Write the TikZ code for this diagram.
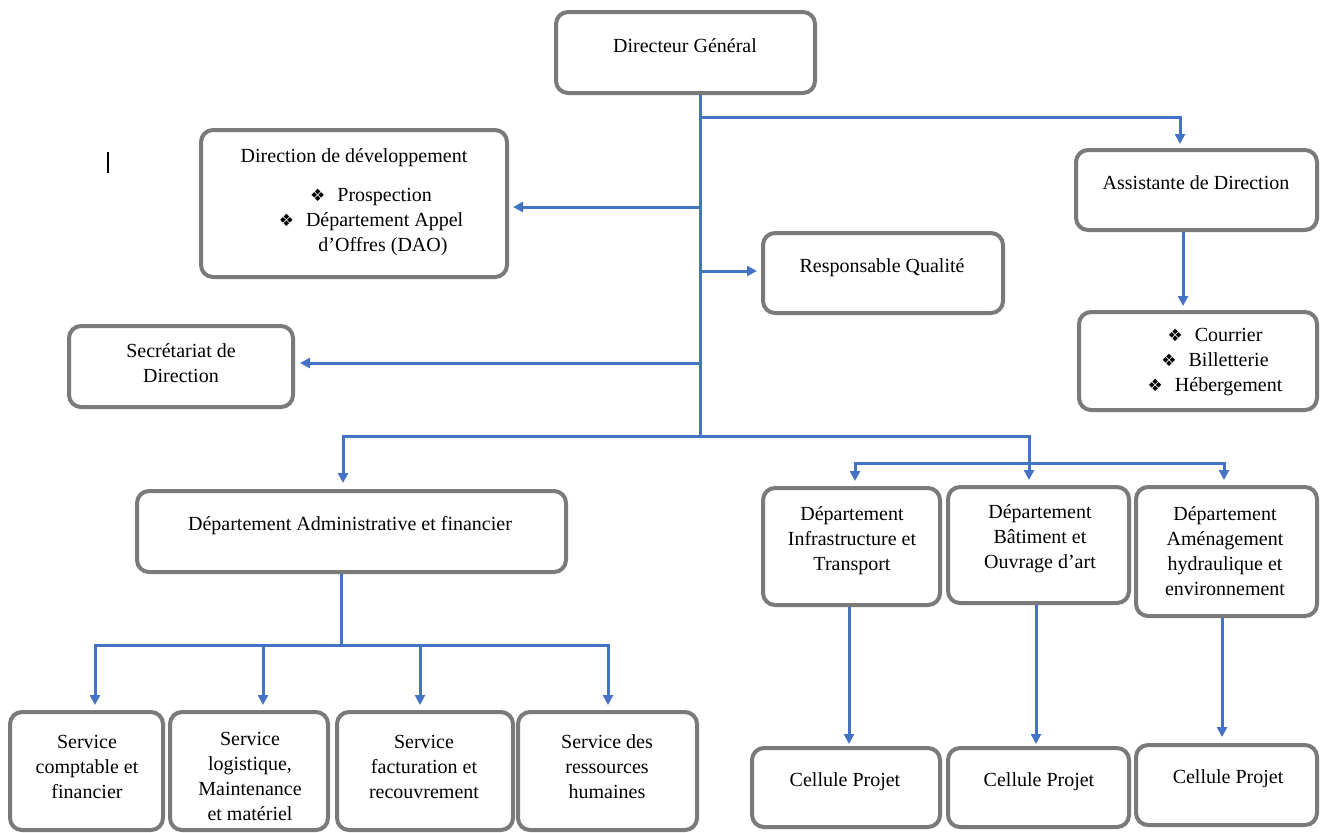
\documentclass[tikz,border=0pt]{standalone}
\usepackage{fontspec}
\setmainfont{Liberation Serif}
\newfontfamily\djv{DejaVu Sans}
\usetikzlibrary{fit,arrows.meta}
\definecolor{boxgray}{HTML}{7A7A7A}
\definecolor{lineblue}{HTML}{4472C4}
\newcommand\bul{{\djv\fontsize{8.5}{8}\selectfont ❖}\hspace{6pt}}
\begin{document}
\begin{tikzpicture}[x=0.5pt,y=-0.5pt,
  box/.style={draw=boxgray, line width=2pt, rounded corners=6pt, fill=white, inner sep=0pt},
  txt/.style={font=\fontsize{10}{12.5}\selectfont, align=center, inner sep=0pt},
  conn/.style={draw=lineblue, line width=1.5pt},
  arr/.style={conn, -{Triangle[length=5pt,width=5pt]}}]
\useasboundingbox (0,0) rectangle (1320,832);
\fill[white] (0,0) rectangle (1320,832);

% boxes
\node[box, fit={(556,12) (815,93)}] (dg) {};
\node[box, fit={(201,130) (507,277)}] (dev) {};
\node[box, fit={(1076,150) (1317,230)}] (asst) {};
\node[box, fit={(763,233) (1003,313)}] (rq) {};
\node[box, fit={(1079,312) (1317,410)}] (cour) {};
\node[box, fit={(69,326) (293,407)}] (sec) {};
\node[box, fit={(137,491) (566,572)}] (daf) {};
\node[box, fit={(763,488) (940,605)}] (infra) {};
\node[box, fit={(948,487) (1129,603)}] (bat) {};
\node[box, fit={(1136,487) (1317,616)}] (amen) {};
\node[box, fit={(10,712) (163,830)}] (s1) {};
\node[box, fit={(170,712) (328,830)}] (s2) {};
\node[box, fit={(337,712) (513,830)}] (s3) {};
\node[box, fit={(518,712) (697,830)}] (s4) {};
\node[box, fit={(752,748) (940,827)}] (c1) {};
\node[box, fit={(948,748) (1129,827)}] (c2) {};
\node[box, fit={(1136,745) (1317,825)}] (c3) {};

% texts
\node[txt] (dgT) at (685,46) {Directeur Général};
\node[txt] (devT) at (354,158) {Direction de développement};
\node[txt] (devL) at (371,222) {\bul Prospection\\\bul Département Appel\\\hspace*{12pt}d’Offres (DAO)};
\node[txt] (asstT) at (1196,183) {Assistante de Direction};
\node[txt] (rqT) at (882,268) {Responsable Qualité};
\node[txt] (courT) at (1215,362) {\bul Courrier\\\bul Billetterie\\\bul Hébergement};
\node[txt] (secT) at (181,363) {Secrétariat de\\Direction};
\node[txt] (dafT) at (350,526) {Département Administrative et financier};
\node[txt] (infraT) at (852,541) {Département\\Infrastructure et\\Transport};
\node[txt] (batT) at (1040,539) {Département\\Bâtiment et\\Ouvrage d’art};
\node[txt] (amenT) at (1225,551) {Département\\Aménagement\\hydraulique et\\environnement};
\node[txt] (s1T) at (87,767) {Service\\comptable et\\financier};
\node[txt] (s2T) at (250,776) {Service\\logistique,\\Maintenance\\et matériel};
\node[txt] (s3T) at (424,767) {Service\\facturation et\\recouvrement};
\node[txt] (s4T) at (607,767) {Service des\\ressources\\humaines};
\node[txt] (c1T) at (845,782) {Cellule Projet};
\node[txt] (c2T) at (1039,782) {Cellule Projet};
\node[txt] (c3T) at (1228,779) {Cellule Projet};

% stray cursor bar
\draw[line width=0.7pt] (108,152) -- (108,173);

% junction coordinates
\coordinate (tr) at (700,0);
\coordinate (jA) at (700,117);
\coordinate (xA) at (1180,0);
\coordinate (xC) at (1183,0);
\coordinate (jDev) at (700,207);
\coordinate (jRQ) at (700,271);
\coordinate (jSec) at (700,363);
\coordinate (jBot) at (700,436);
\coordinate (xDaf) at (343,0);
\coordinate (jB) at (1029,436);
\coordinate (jD1) at (855,463);
\coordinate (jD2) at (1224,463);
\coordinate (jDm) at (1029,463);
\coordinate (xInf) at (849,0);
\coordinate (xBat) at (1036,0);
\coordinate (xAm) at (1222,0);
\coordinate (jS) at (341,645);
\coordinate (jS1) at (95,645);
\coordinate (jS4) at (608,645);
\coordinate (xS2) at (263,0);
\coordinate (xS3) at (420,0);

% connectors
\draw[conn] (tr |- dg.south) -- (jBot);
\draw[arr] (jA) -| ([yshift=2pt]xA |- asst.north);
\draw[arr] (xC |- asst.south) -- ([yshift=2pt]xC |- cour.north);
\draw[arr] (jDev) -- ([xshift=2pt]dev.east |- jDev);
\draw[arr] (jRQ) -- ([xshift=-2pt]rq.west |- jRQ);
\draw[arr] (jSec) -- ([xshift=2.5pt]sec.east |- jSec);
\draw[conn] (jBot) -- (jB) -- (jDm);
\draw[arr] (jBot) -| ([yshift=3pt]xDaf |- daf.north);
\draw[arr] (jDm) -- ([yshift=2.5pt]jB |- bat.north);
\draw[arr] (jDm) -- (jD1) -- ([yshift=2.5pt]jD1 |- infra.north);
\draw[arr] (jDm) -- (jD2) -- ([yshift=2.5pt]jD2 |- amen.north);
\draw[arr] (xInf |- infra.south) -- ([yshift=1pt]xInf |- c1.north);
\draw[arr] (xBat |- bat.south) -- ([yshift=1pt]xBat |- c2.north);
\draw[arr] (xAm |- amen.south) -- ([yshift=3pt]xAm |- c3.north);
\draw[conn] (jS |- daf.south) -- (jS);
\draw[conn] (jS1) -- (jS4);
\draw[arr] (jS) -- (jS1) -- ([yshift=2.5pt]jS1 |- s1.north);
\draw[arr] (jS) -- (jS4) -- ([yshift=2.5pt]jS4 |- s4.north);
\draw[arr] (xS2 |- jS) -- ([yshift=2.5pt]xS2 |- s2.north);
\draw[arr] (xS3 |- jS) -- ([yshift=2.5pt]xS3 |- s3.north);
\end{tikzpicture}
\end{document}
